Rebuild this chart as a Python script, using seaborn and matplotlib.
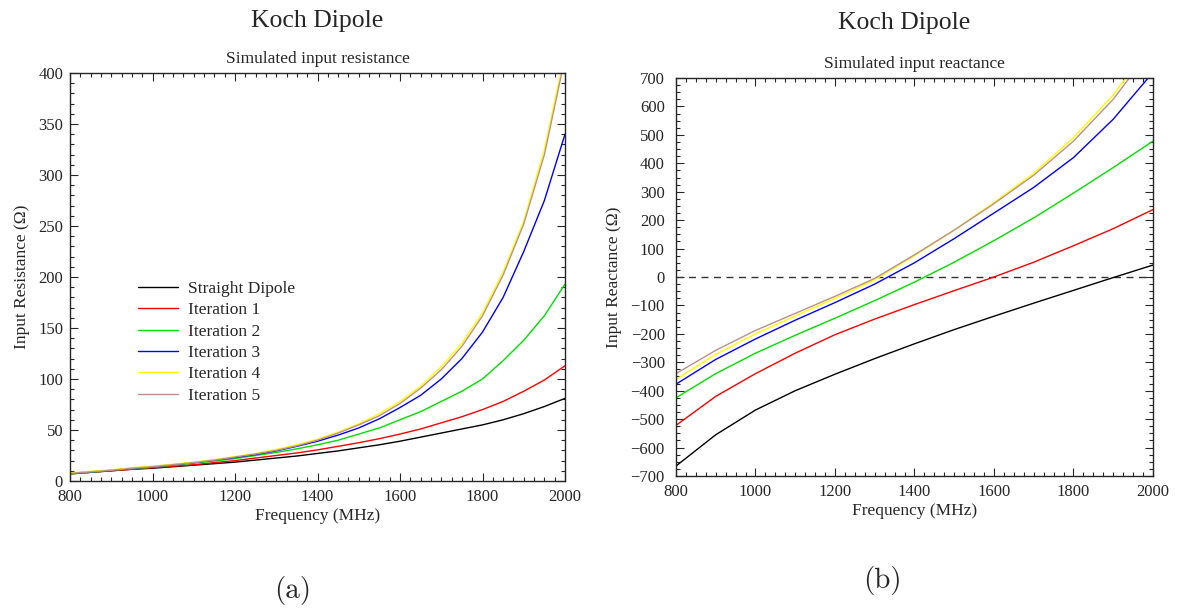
import numpy as np
import pandas as pd
import seaborn as sns
import matplotlib.pyplot as plt
from matplotlib.ticker import MultipleLocator

# frequency grids (MHz)
freq_res = list(range(800, 2001, 50))
freq_reac = list(range(800, 2001, 100))

series_names = ["Straight Dipole", "Iteration 1", "Iteration 2",
                "Iteration 3", "Iteration 4", "Iteration 5"]
series_colors = ["black", "red", "#00e000", "blue", "yellow", "rosybrown"]

# input resistance (Ohm)
res_straight = [7, 8.5, 10, 11.5, 12.5, 14, 15.5, 17, 18.5, 20.5, 22.5, 24.5, 27,
                29.5, 32.5, 35.5, 39, 43, 47, 51, 55, 60, 66, 73, 81]
res_iter1 = [7, 8.5, 10, 11.5, 13, 14.5, 16, 18, 20, 22.5, 25, 27.5, 30.5,
             34, 37.5, 41.5, 46, 51, 57, 63, 70, 78, 88, 99, 113]
res_iter2 = [7, 8.5, 10.5, 12, 13.5, 15.5, 17.5, 19.5, 22, 25, 28, 31.5, 35.5,
             40, 46, 52, 60, 68, 78, 88, 100, 118, 138, 162, 193]
res_iter3 = [7.5, 9, 10.5, 12.5, 14, 16, 18, 20.5, 23, 26, 29.5, 34, 39,
             45, 52, 61, 72, 84, 100, 120, 146, 180, 225, 275, 340]
res_iter4 = [8, 9.5, 11, 13, 14.5, 16.5, 18.5, 21, 24, 27, 31, 35.5, 41,
             48, 56, 66, 78, 93, 112, 135, 165, 205, 255, 325, 420]
res_iter5 = [7.5, 9, 10.5, 12.5, 14, 16, 18, 20.5, 23.5, 26.5, 30, 34.5, 40,
             47, 55, 64, 76, 91, 109, 132, 162, 202, 252, 320, 415]

# input reactance (Ohm)
reac_straight = [-665, -555, -468, -400, -342, -287, -235, -185, -138, -92, -47, -2, 42]
reac_iter1 = [-522, -420, -340, -268, -203, -148, -97, -48, 0, 52, 110, 170, 237]
reac_iter2 = [-425, -340, -268, -205, -145, -83, -18, 52, 128, 208, 295, 385, 478]
reac_iter3 = [-377, -290, -218, -152, -90, -25, 50, 135, 225, 315, 420, 555, 720]
reac_iter4 = [-360, -272, -200, -137, -75, -10, 75, 165, 262, 365, 490, 640, 830]
reac_iter5 = [-340, -258, -188, -128, -68, -5, 78, 165, 258, 358, 478, 625, 810]


def long_frame(freq, columns):
    parts = []
    for name, vals in zip(series_names, columns):
        parts.append(pd.DataFrame({"freq": freq, "value": vals, "series": name}))
    return pd.concat(parts, ignore_index=True)


def style_axes(ax, xminor, yminor, ypad):
    ax.xaxis.set_major_locator(MultipleLocator(200))
    ax.xaxis.set_minor_locator(MultipleLocator(xminor))
    ax.yaxis.set_minor_locator(MultipleLocator(yminor))
    ax.tick_params(which="both", direction="in", top=True, right=True,
                   labelsize=12, width=0.8)
    ax.tick_params(which="major", length=6)
    ax.tick_params(which="minor", length=3)
    ax.tick_params(axis="y", which="major", pad=ypad)
    ax.tick_params(axis="x", which="major", pad=6)
    for sp in ax.spines.values():
        sp.set_linewidth(1.0)
        sp.set_visible(True)


def main():
    sns.set_style("ticks")
    plt.rcParams["font.family"] = ["Liberation Serif", "DejaVu Serif"]
    plt.rcParams["axes.unicode_minus"] = True

    palette = dict(zip(series_names, series_colors))
    fig = plt.figure(figsize=(11.83, 6.09), dpi=100)

    # (a) resistance
    ax1 = fig.add_axes([0.0592, 0.2102, 0.4184, 0.6699])
    res_df = long_frame(freq_res, [res_straight, res_iter1, res_iter2,
                                   res_iter3, res_iter4, res_iter5])
    sns.lineplot(data=res_df, x="freq", y="value", hue="series",
                 palette=palette, linewidth=1.0, ax=ax1)
    ax1.set_xlim(800, 2000)
    ax1.set_ylim(0, 400)
    ax1.yaxis.set_major_locator(MultipleLocator(50))
    style_axes(ax1, 25, 10, 5)
    ax1.set_xlabel("Frequency (MHz)", fontsize=12.5, labelpad=2)
    ax1.set_ylabel("Input Resistance (Ω)", fontsize=12.5, labelpad=6)
    ax1.set_title("Simulated input resistance", fontsize=12.5, pad=7)
    ax1.legend(frameon=False, fontsize=12.5, loc="center left",
               bbox_to_anchor=(0.105, 0.34), handlelength=2.3,
               labelspacing=0.3, handletextpad=0.6)

    # (b) reactance
    ax2 = fig.add_axes([0.5714, 0.2184, 0.4032, 0.6535])
    reac_df = long_frame(freq_reac, [reac_straight, reac_iter1, reac_iter2,
                                     reac_iter3, reac_iter4, reac_iter5])
    ax2.axhline(0, color="#333333", linestyle=(0, (5, 4)), linewidth=1.0)
    sns.lineplot(data=reac_df, x="freq", y="value", hue="series",
                 palette=palette, linewidth=1.0, ax=ax2, legend=False)
    ax2.set_xlim(800, 2000)
    ax2.set_ylim(-700, 700)
    ax2.yaxis.set_major_locator(MultipleLocator(100))
    style_axes(ax2, 25, 25, 8)
    ax2.set_xlabel("Frequency (MHz)", fontsize=12.5, labelpad=2)
    ax2.set_ylabel("Input Reactance (Ω)", fontsize=12.5, labelpad=6)
    ax2.set_title("Simulated input reactance", fontsize=12.5, pad=7)

    fig.text(0.268, 0.966, "Koch Dipole", fontsize=18.5, ha="center", va="center")
    fig.text(0.764, 0.962, "Koch Dipole", fontsize=18.5, ha="center", va="center")
    fig.text(0.247, 0.03, "(a)", fontsize=21, ha="center", va="center",
             family="cmr10")
    fig.text(0.746, 0.047, "(b)", fontsize=21, ha="center", va="center",
             family="cmr10")

    fig.savefig("out.png", dpi=100)


if __name__ == "__main__":
    main()
